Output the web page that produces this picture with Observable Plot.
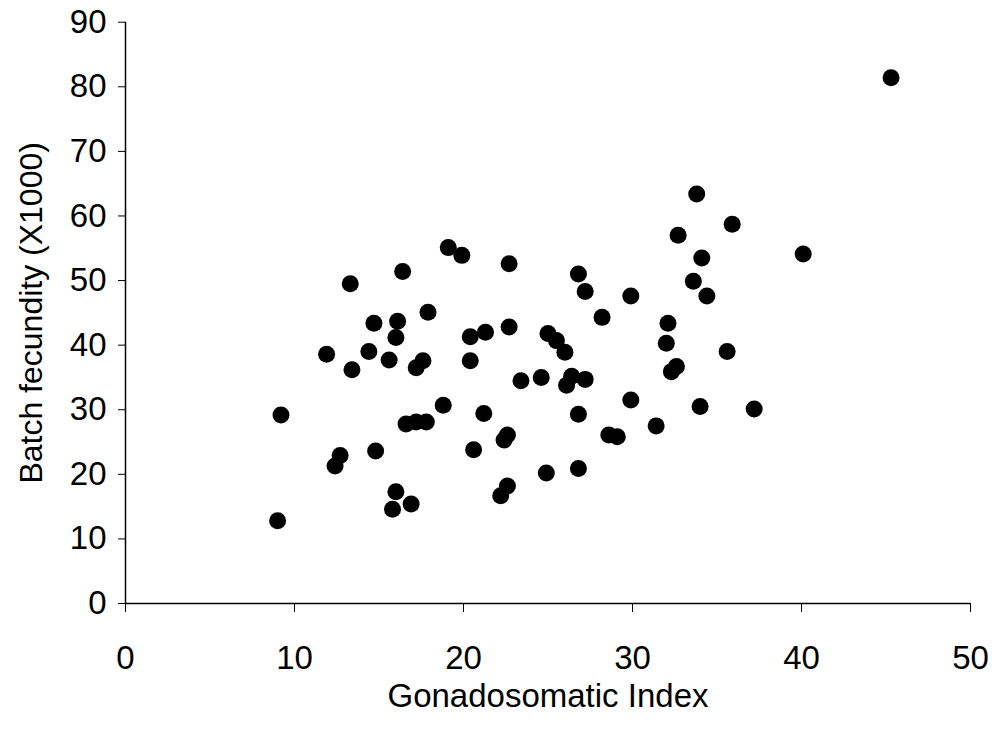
<!DOCTYPE html>
<html>
<head>
<meta charset="utf-8">
<script src="https://cdn.jsdelivr.net/npm/d3@7"></script>
<script src="https://cdn.jsdelivr.net/npm/@observablehq/plot@0.6"></script>
<style>
  html, body { margin: 0; padding: 0; background: #fff; }
  #chart { width: 997px; height: 740px; }
</style>
</head>
<body>
<div id="chart"></div>
<script>
// Gonadosomatic index (x) and batch fecundity in thousands (y)
const gsi = [
  9.0, 9.2, 11.9, 12.4, 12.7, 13.3, 13.4, 14.4, 14.7, 14.8,
  15.6, 15.8, 16.1, 16.0, 16.0, 16.4, 16.6, 16.9, 17.2, 17.2,
  17.6, 17.8, 17.9, 18.8, 19.1, 19.9, 20.4, 20.4, 20.6, 21.2,
  21.3, 22.2, 22.4, 22.6, 22.7, 22.7, 22.6, 23.4, 24.6, 24.9,
  25.0, 25.5, 26.0, 26.1, 26.4, 26.8, 26.8, 26.8, 27.2, 27.2,
  28.2, 28.6, 29.1, 29.9, 29.9, 31.4, 32.0, 32.1, 32.6, 32.3,
  32.7, 33.6, 33.8, 34.0, 34.1, 34.4, 35.6, 35.9, 37.2, 40.1,
  45.3
];
const fecundity = [
  12.8, 29.2, 38.6, 21.3, 22.9, 49.5, 36.2, 39.0, 43.4, 23.6,
  37.7, 14.6, 43.7, 41.2, 17.3, 51.4, 27.8, 15.4, 36.5, 28.1,
  37.6, 28.1, 45.1, 30.7, 55.1, 53.9, 41.3, 37.6, 23.8, 29.4,
  42.0, 16.7, 25.3, 26.1, 52.6, 42.8, 18.2, 34.5, 35.0, 20.2,
  41.8, 40.7, 38.9, 33.8, 35.2, 51.0, 29.3, 20.9, 48.3, 34.7,
  44.3, 26.1, 25.8, 47.6, 31.5, 27.5, 40.3, 43.4, 36.7, 35.9,
  57.0, 49.9, 63.4, 30.5, 53.5, 47.6, 39.0, 58.7, 30.1, 54.1,
  81.4
];
const xTicks = [0, 10, 20, 30, 40, 50];
const yTicks = [0, 10, 20, 30, 40, 50, 60, 70, 80, 90];
const xTitle = "Gonadosomatic Index";
const yTitle = "Batch fecundity (X1000)";

const points = gsi.map((g, i) => ({gsi: g, fec: fecundity[i]}));
const font = "'Liberation Sans', Arial, Helvetica, sans-serif";

const chart = Plot.plot({
  width: 997,
  height: 740,
  marginLeft: 125,
  marginRight: 27,
  marginTop: 21.7,
  marginBottom: 137,
  style: {fontFamily: font, fontSize: "33px", color: "#000", background: "#fff"},
  x: {domain: [0, 50]},
  y: {domain: [0, 90]},
  marks: [
    Plot.axisX({ticks: xTicks, tickSize: 9, tickPadding: 33, tickFormat: d => String(d), label: null, fontSize: 33, stroke: "#000"}),
    Plot.axisY({ticks: yTicks, tickSize: 7, tickPadding: 12, tickFormat: d => String(d), label: null, fontSize: 33, stroke: "#000"}),
    Plot.ruleY([0], {stroke: "#000", strokeWidth: 1.5}),
    Plot.ruleX([0], {stroke: "#000", strokeWidth: 1.5}),
    Plot.dot(points, {x: "gsi", y: "fec", r: 8.5, fill: "#000", stroke: "none"}),
    Plot.text([xTitle], {text: d => d, frameAnchor: "bottom", textAnchor: "middle", lineAnchor: "bottom", dy: 103, fontSize: 33, fill: "#000"}),
    Plot.text([yTitle], {text: d => d, frameAnchor: "left", textAnchor: "middle", lineAnchor: "middle", rotate: -90, dx: -94, fontSize: 32, fill: "#000"})
  ]
});
document.getElementById("chart").appendChild(chart);
</script>
</body>
</html>
